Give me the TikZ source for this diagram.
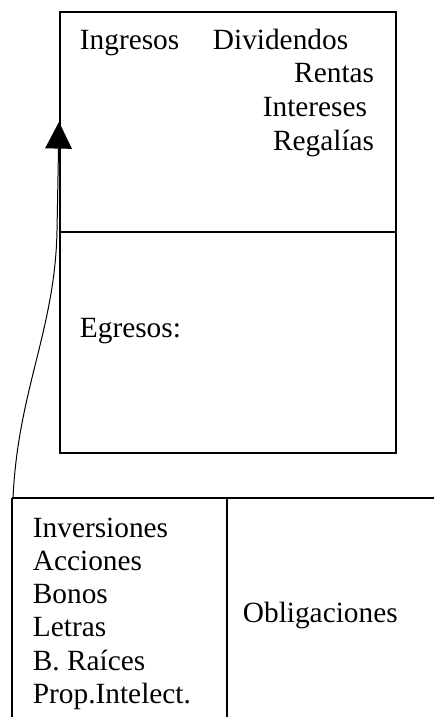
\documentclass[tikz,border=0pt]{standalone}
\usepackage{fontspec}
\setmainfont{Liberation Serif}
\usetikzlibrary{arrows.meta,positioning,calc}

\begin{document}
\begin{tikzpicture}[x=0.6pt, y=-0.6pt, line width=1.1pt,
    box/.style={draw, line width=1.1pt, inner sep=0pt, anchor=north west},
    lbl/.style={font=\fontsize{17.6}{20}\selectfont, inner sep=0pt}]
    \useasboundingbox (0,0) rectangle (434,717);

    % Ingresos / Egresos
    \node[box, minimum width=201.6pt, minimum height=132pt] (ingbox) at (59,11) {};
    \node[box, minimum width=201.6pt, minimum height=132.6pt] (egrbox) at (59,231) {};

    \node[lbl, anchor=base west] (ing) at (79,49) {Ingresos};
    \node[lbl, anchor=base west] (div) at (212,49) {Dividendos};
    \node[lbl, anchor=base east] (ren) at (375,82) {Rentas};
    \node[lbl, anchor=base east] (int) at (368,116) {Intereses};
    \node[lbl, anchor=base east] (reg) at (375,150) {Regalías};
    \node[lbl, anchor=base west] (egr) at (79,337) {Egresos:};

    % Inversiones / Obligaciones
    \coordinate (bl) at (12,498);
    \coordinate (bm) at (227,498);
    \draw (bl) -- (434,498);
    \draw (bl) -- (12,717);
    \draw (bm) -- (227,717);

    \foreach \txt [count=\i from 0] in {Inversiones, Acciones, Bonos, Letras, B. Raíces, Prop.Intelect.}
        \node[lbl, anchor=base west] (inv\i) at (32,537+33.3*\i) {\txt};
    \node[lbl, anchor=base west] (obl) at (242,622) {Obligaciones};

    % Flecha
    \coordinate (start) at (13,498);
    \draw[-{Triangle[length=16pt,width=16pt]}, line width=0.6pt]
        (start) .. controls (18,390) and (55,330) .. (57,231) -- (ingbox.west);
\end{tikzpicture}
\end{document}
